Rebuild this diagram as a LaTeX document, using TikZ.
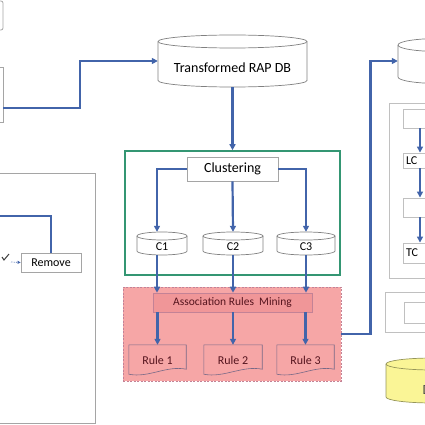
\documentclass[tikz,border=0pt]{standalone}
\usepackage{fontspec}
\setmainfont{Carlito}
\usetikzlibrary{arrows.meta,backgrounds}

\definecolor{flowblue}{RGB}{66,100,170}
\definecolor{boxgray}{RGB}{165,165,165}
\definecolor{palegray}{RGB}{192,192,192}
\definecolor{dbgray}{RGB}{128,128,128}
\definecolor{clustgreen}{RGB}{52,150,115}
\definecolor{rulepink}{RGB}{246,166,166}
\definecolor{minepink}{RGB}{240,150,152}
\definecolor{pinkedge}{RGB}{195,130,150}
\definecolor{docedge}{RGB}{120,105,135}
\definecolor{ruletext}{RGB}{85,20,30}
\definecolor{dbyellow}{RGB}{250,245,150}
\definecolor{yellowedge}{RGB}{150,150,90}

% cylinder: [style] left, right, top, bottom, y radius
\newcommand{\dbcyl}[6][fill=white]{%
  \draw[dbline,#1] (#2,#4+#6) -- (#2,#5-#6)
    arc[start angle=180,end angle=0,x radius={(#3-#2)/2},y radius=#6]
    -- (#3,#4+#6)
    arc[start angle=0,end angle=-180,x radius={(#3-#2)/2},y radius=#6] -- cycle;
  \draw[dbline,#1,fill=none] (#2,#4+#6)
    arc[start angle=180,end angle=0,x radius={(#3-#2)/2},y radius=#6];
}

\begin{document}
\begin{tikzpicture}[x=1pt,y=-1pt,
  flow/.style={draw=flowblue,line width=2.2pt,-{Triangle[length=6pt,width=6pt]}},
  link/.style={draw=flowblue,line width=2.2pt},
  dbline/.style={draw=dbgray,line width=0.7pt},
  graybox/.style={draw=boxgray,line width=0.8pt,fill=white,inner sep=0pt},
  palebox/.style={draw=palegray,line width=0.9pt,fill=white,inner sep=0pt},
  dbtext/.style={inner sep=0pt,text height=14.8pt,text depth=0pt,font=\fontsize{12}{14}\selectfont},
  ruletxt/.style={inner sep=0pt,text=ruletext,font=\fontsize{12}{14}\selectfont},
  sidetxt/.style={palebox,text width=71pt,align=left,inner sep=3pt,font=\fontsize{12}{14}\selectfont}
]
\useasboundingbox (0,0) rectangle (425,425);
\clip (0,0) rectangle (425,425);

% left part
\draw[graybox,rounded corners=2pt] (-40,1) rectangle (3,30);
\node[graybox,minimum width=43,minimum height=55] (src) at (-18.5,94.5) {};
\draw[graybox] (-40,173) rectangle (95,423.5);
\node[graybox,minimum width=60,minimum height=19,font=\fontsize{12}{14}\selectfont] (rem) at (51,262.5) {Remove};
\coordinate (lin) at (-5,216);
\coordinate (chk) at (11,262);
\draw[link] (lin) -| (rem.north);
\draw[black!75,line width=1pt] (2,257) -- (4,260) -- (9,254);
\draw[flowblue,densely dotted,line width=0.7pt,-{Triangle[length=3pt,width=3pt]}] (chk) -- (rem.west);

% transformed db
\dbcyl{158}{307}{35}{87}{6.5}
\node[dbtext,font=\fontsize{14}{16}\selectfont,text height=23pt,minimum width=149,minimum height=52] (tdb) at (232.5,61) {Transformed RAP DB};
\draw[flow] ([yshift=-13.5pt]src.east) -- (80,108) |- (tdb.west);

% clustering
\node[draw=clustgreen,line width=1.6pt,minimum width=215,minimum height=124] (grn) at (232.5,213) {};
\draw[flow] (tdb.south) -- (grn.north);
\node[graybox,font=\fontsize{14}{16}\selectfont,minimum width=91,minimum height=24] (clu) at (232.5,169) {Clustering};

\dbcyl{137}{187}{232}{255}{4}
\dbcyl{203}{263}{232}{255}{4}
\dbcyl{277}{335}{232}{255}{4}
\node[dbtext,minimum width=50,minimum height=23] (c1) at (162,243.5) {C1};
\node[dbtext,minimum width=60,minimum height=23] (c2) at (233,243.5) {C2};
\node[dbtext,minimum width=58,minimum height=23] (c3) at (306,243.5) {C3};

\draw[flow] (clu.west) -| ([xshift=-5pt]c1.north);
\draw[flow] (clu.south) -- (c2.north);
\draw[flow] (clu.east) -| (c3.north);

% rules mining
\node[fill=minepink,draw=pinkedge,line width=0.6pt,inner sep=0pt,text=ruletext,font=\fontsize{11.5}{13}\selectfont,minimum width=159,minimum height=19] (arm) at (232.5,302.5) {Association Rules\ \ Mining};
\node[ruletxt,minimum width=57,minimum height=30] (r1) at (157.5,360) {Rule 1};
\node[ruletxt,minimum width=58,minimum height=30] (r2) at (233,360) {Rule 2};
\node[ruletxt,minimum width=57,minimum height=30] (r3) at (305.5,360) {Rule 3};

\begin{scope}[on background layer]
  \node[fill=rulepink,draw=pinkedge,dash pattern=on 2pt off 1.5pt,line width=0.8pt,minimum width=218,minimum height=94] (pnk) at (232,334) {};
  \foreach \r in {r1,r2,r3}
    \draw[docedge,line width=0.6pt,fill=rulepink] (\r.north west) -- (\r.north east) -- ([yshift=6pt]\r.south east)
      .. controls +(-20,-4) and +(20,4) .. ([yshift=1pt]\r.south west) -- cycle;
\end{scope}

\draw[flow] ([xshift=-5pt]c1.south) -- ([xshift=-5pt]c1.south |- arm.north);
\draw[flow] (c2.south) -- (c2.south |- arm.north);
\draw[flow] (c3.south) -- (c3.south |- arm.north);
\foreach \r in {r1,r2,r3}
  \draw[flow] (arm.south -| \r.north) -- (\r.north);

% right part
\dbcyl{398}{480}{38.5}{83.5}{6.5}
\node[minimum width=82,minimum height=45] (rdb) at (439,61) {};
\draw[flow] (pnk.east) -- ++(29,0) |- (rdb.west);

\draw[palebox] (389,103) rectangle (480,278);
\node[palebox,minimum width=77,minimum height=19] (b1) at (441.5,118.5) {};
\node[sidetxt,minimum height=15] (lc) at (441.5,160.5) {LC};
\node[palebox,minimum width=77,minimum height=19] (b3) at (441.5,207.5) {};
\node[sidetxt,minimum height=20] (tc) at (441.5,253) {TC};
\coordinate (rx) at (420,0);
\draw[flow] (b1.south -| rx) -- (lc.north -| rx);
\draw[flow] (lc.south -| rx) -- (b3.north -| rx);
\draw[flow] (b3.south -| rx) -- (tc.north -| rx);

\draw[palebox] (385,292) rectangle (480,332);
\node[palebox,minimum width=76,minimum height=21] (rin) at (442,312.5) {};

\dbcyl[fill=dbyellow,draw=yellowedge]{386}{480}{358}{403}{6}
\node[anchor=base west,inner sep=0pt,font=\fontsize{14}{16}\selectfont,text=black!70] (ydb) at (422.5,394) {D};
\end{tikzpicture}
\end{document}
